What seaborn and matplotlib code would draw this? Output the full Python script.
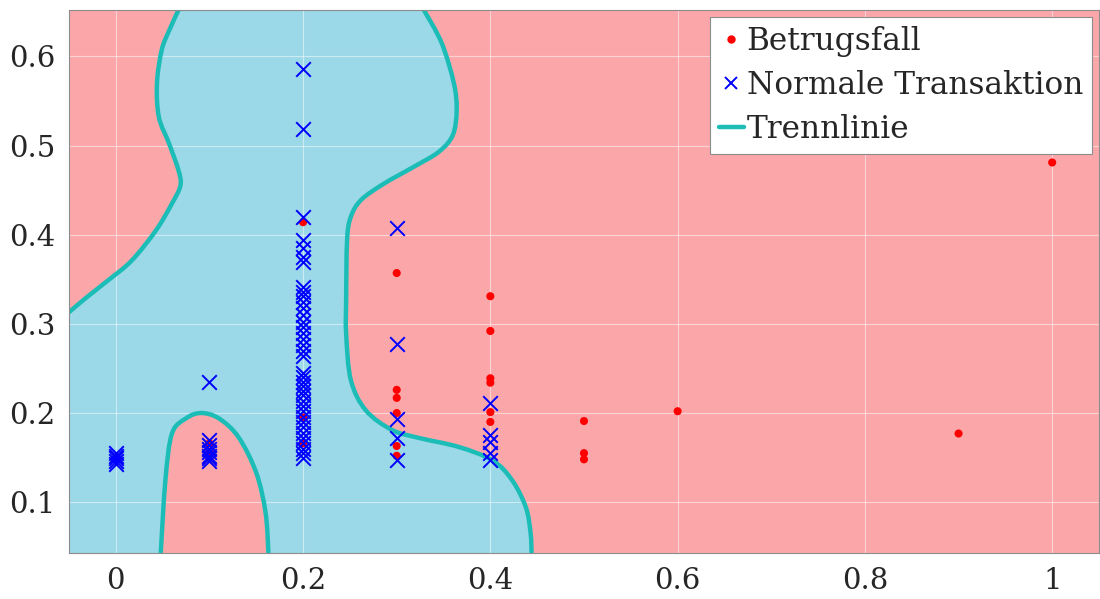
import numpy as np
import pandas as pd
import matplotlib
matplotlib.use("Agg")
import matplotlib.pyplot as plt
from matplotlib.lines import Line2D
from matplotlib.path import Path
from matplotlib.patches import PathPatch
import seaborn as sns

# --- data ---
fraud_x = [0.1, 0.1, 0.2, 0.2, 0.2,
           0.3, 0.3, 0.3, 0.3, 0.3, 0.3,
           0.4, 0.4, 0.4, 0.4, 0.4, 0.4,
           0.5, 0.5, 0.5, 0.6, 0.9, 1.0]
fraud_y = [0.166, 0.155, 0.414, 0.195, 0.166,
           0.357, 0.226, 0.217, 0.200, 0.163, 0.152,
           0.331, 0.292, 0.239, 0.234, 0.201, 0.190,
           0.191, 0.155, 0.148, 0.202, 0.177, 0.481]

normal_x0 = [0.0] * 5
normal_y0 = [0.155, 0.152, 0.149, 0.146, 0.143]
normal_x1 = [0.1] * 8
normal_y1 = [0.235, 0.170, 0.164, 0.160, 0.156, 0.152, 0.149, 0.146]
normal_y2 = [0.586, 0.519, 0.420, 0.394, 0.385, 0.375, 0.369, 0.341, 0.336,
             0.331, 0.325, 0.318, 0.310, 0.302, 0.296, 0.290, 0.283, 0.276,
             0.270, 0.264, 0.245, 0.240, 0.235, 0.230, 0.225, 0.220, 0.214,
             0.208, 0.202, 0.196, 0.190, 0.184, 0.178, 0.172, 0.166, 0.160,
             0.155, 0.150]
normal_x2 = [0.2] * len(normal_y2)
normal_x3 = [0.3] * 5
normal_y3 = [0.408, 0.277, 0.193, 0.172, 0.147]
normal_x4 = [0.4] * 5
normal_y4 = [0.211, 0.175, 0.167, 0.155, 0.147]

# decision boundary (Trennlinie), three pieces
left_bx = [-0.05, -0.032, -0.008, 0.017, 0.043, 0.060, 0.069, 0.067, 0.057,
           0.046, 0.044, 0.049, 0.057, 0.067]
left_by = [0.313, 0.329, 0.349, 0.371, 0.405, 0.435, 0.455, 0.472, 0.502,
           0.532, 0.570, 0.607, 0.629, 0.652]
right_bx = [0.329, 0.348, 0.361, 0.364, 0.360, 0.345, 0.318, 0.286, 0.262,
            0.251, 0.247, 0.246, 0.246, 0.251, 0.267, 0.295, 0.324, 0.366,
            0.402, 0.423, 0.438, 0.443, 0.444]
right_by = [0.652, 0.615, 0.570, 0.540, 0.512, 0.493, 0.476, 0.457, 0.439,
            0.420, 0.394, 0.327, 0.289, 0.237, 0.203, 0.181, 0.172, 0.162,
            0.147, 0.125, 0.094, 0.065, 0.043]
bump_bx = [0.048, 0.053, 0.060, 0.075, 0.091, 0.110, 0.131, 0.150, 0.160, 0.163]
bump_by = [0.043, 0.125, 0.177, 0.194, 0.200, 0.194, 0.173, 0.133, 0.088, 0.043]

x_ticks = [0, 0.2, 0.4, 0.6, 0.8, 1]
x_labels = ["0", "0.2", "0.4", "0.6", "0.8", "1"]
y_ticks = [0.1, 0.2, 0.3, 0.4, 0.5, 0.6]
xlim = (-0.05, 1.05)
ylim = (0.043, 0.652)

fraud = pd.DataFrame({"x": fraud_x, "y": fraud_y})
normal = pd.DataFrame({
    "x": normal_x0 + normal_x1 + normal_x2 + normal_x3 + normal_x4,
    "y": normal_y0 + normal_y1 + normal_y2 + normal_y3 + normal_y4,
})


def smooth_segments(xs, ys):
    # Catmull-Rom through the read points, as cubic Bezier path pieces
    p = np.column_stack([xs, ys])
    n = len(p)
    verts, codes = [], []
    for i in range(n - 1):
        p0 = p[max(i - 1, 0)]
        p1, p2 = p[i], p[i + 1]
        p3 = p[min(i + 2, n - 1)]
        c1 = p1 + (p2 - p0) / 6
        c2 = p2 - (p3 - p1) / 6
        verts += [c1, c2, p2]
        codes += [Path.CURVE4] * 3
    return verts, codes


def curve_path(xs, ys):
    v, c = smooth_segments(xs, ys)
    return Path([(xs[0], ys[0])] + v, [Path.MOVETO] + c)


sns.set_style("white")
plt.rcParams["font.family"] = ["DejaVu Serif"]

pink = "#fba7aa"
blue_region = "#9bd8e8"
teal = "#1cbdb6"

fig = plt.figure(figsize=(11, 5.99), dpi=100)
ax = fig.add_axes([0.0627, 0.0768, 0.9364, 0.9065])
ax.set_facecolor(pink)

# blue region: frame edge + bump + right curve (reversed) + left curve (reversed)
verts = [(xlim[0], left_by[0]), (xlim[0], ylim[0]), (bump_bx[0], bump_by[0])]
codes = [Path.MOVETO, Path.LINETO, Path.LINETO]
v, c = smooth_segments(bump_bx, bump_by)
verts += v; codes += c
verts.append((right_bx[-1], right_by[-1])); codes.append(Path.LINETO)
v, c = smooth_segments(right_bx[::-1], right_by[::-1])
verts += v; codes += c
verts.append((left_bx[-1], left_by[-1])); codes.append(Path.LINETO)
v, c = smooth_segments(left_bx[::-1], left_by[::-1])
verts += v; codes += c
verts.append((0, 0)); codes.append(Path.CLOSEPOLY)
ax.add_patch(PathPatch(Path(verts, codes), facecolor=blue_region, lw=0, zorder=0.2))

for bx, by in [(left_bx, left_by), (right_bx, right_by), (bump_bx, bump_by)]:
    ax.add_patch(PathPatch(curve_path(bx, by), fill=False, edgecolor=teal,
                           lw=3.2, capstyle="butt", zorder=1))

sns.scatterplot(data=fraud, x="x", y="y", ax=ax, color="#ff0000", marker="o",
                s=34, edgecolor="none", zorder=3)
sns.scatterplot(data=normal, x="x", y="y", ax=ax, color="#0000ff", marker="x",
                s=110, linewidth=1.4, zorder=4)

ax.set_xlim(*xlim)
ax.set_ylim(*ylim)
ax.set_xticks(x_ticks)
ax.set_xticklabels(x_labels)
ax.set_yticks(y_ticks)
ax.set_yticklabels([f"{v:g}" for v in y_ticks])
ax.set_xlabel("")
ax.set_ylabel("")
ax.set_axisbelow(True)
ax.grid(True, color="white", alpha=0.5, lw=0.8)
ax.tick_params(direction="in", length=4, color="#808080", labelsize=21,
               pad=10, labelcolor="#262626")
for sp in ax.spines.values():
    sp.set_color("#8c8c8c")
    sp.set_linewidth(0.8)

handles = [
    Line2D([], [], ls="none", marker="o", color="#ff0000", markersize=5),
    Line2D([], [], ls="none", marker="x", color="#0000ff", markersize=8, mew=1.4),
    Line2D([], [], color=teal, lw=3.2),
]
labels = ["Betrugsfall", "Normale Transaktion", "Trennlinie"]
leg = ax.legend(handles, labels, loc="upper right", bbox_to_anchor=(0.993, 0.987),
                borderaxespad=0, fontsize=22.5, frameon=True, fancybox=False,
                framealpha=1, edgecolor="#8c8c8c", handlelength=0.8,
                handletextpad=0.1, labelspacing=0.42, borderpad=0.28)
leg.get_frame().set_linewidth(0.8)

fig.savefig("out.png", dpi=100)
